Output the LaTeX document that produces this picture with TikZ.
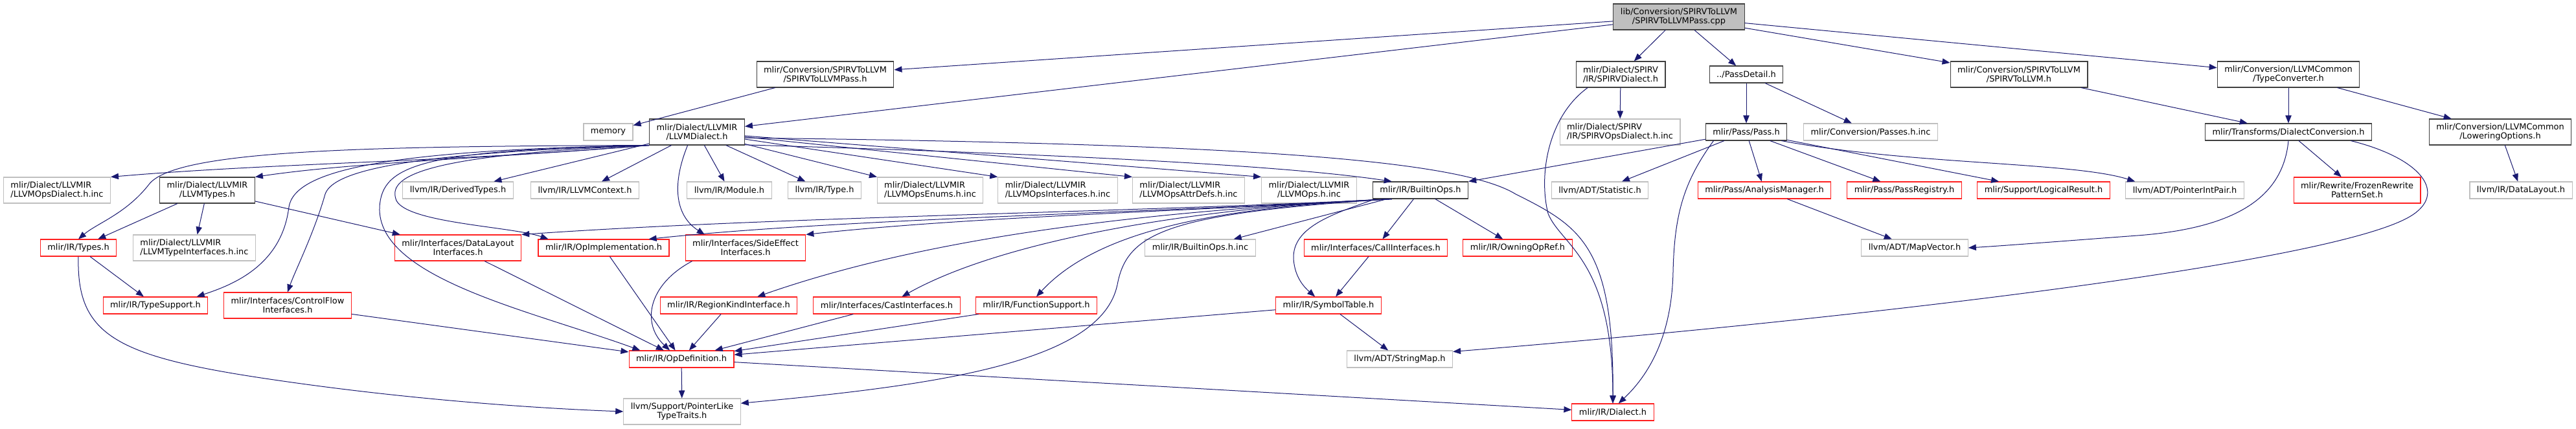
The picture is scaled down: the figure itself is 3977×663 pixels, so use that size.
\documentclass[tikz,border=0pt]{standalone}
\usepackage{fontspec}
\setmainfont{DejaVu Sans}
\usepackage{tikz}
\usetikzlibrary{arrows.meta}
\usepackage{xcolor}
\definecolor{known}{HTML}{404040}
\definecolor{ext}{HTML}{BFBFBF}
\definecolor{trunc}{HTML}{FF2020}
\definecolor{edgeblue}{HTML}{191970}
\newcommand{\graphfont}{\fontsize{9.7pt}{10.5pt}\selectfont}

\begin{document}
\begin{tikzpicture}[
  x=0.75pt, y=-0.75pt,
  hdr/.style={draw=#1, line width=0.8pt, font=\graphfont, inner xsep=8.25pt, inner ysep=0pt, minimum height=19.5pt, align=center},
  hdr/.default=known,
  hdr2/.style={hdr=#1, minimum height=30pt},
  hdr2/.default=known,
  dep/.style={-{Triangle[length=9pt, width=7pt]}, line width=0.75pt, edgeblue}
]
  \useasboundingbox (0,0) rectangle (3977,663);

  % source file
  \node[hdr2, fill=ext] (root) at (2592,26) {lib/Conversion/SPIRVToLLVM\\/SPIRVToLLVMPass.cpp};

  % first level
  \node[hdr2] (s2lpass) at (1274,115) {mlir/Conversion/SPIRVToLLVM\\/SPIRVToLLVMPass.h};
  \node[hdr2, align=left] (spirvdialect) at (2502,115) {mlir/Dialect/SPIRV\\/IR/SPIRVDialect.h};
  \node[hdr] (passdetail) at (2696,115) {../PassDetail.h};
  \node[hdr2] (s2l) at (3117,115) {mlir/Conversion/SPIRVToLLVM\\/SPIRVToLLVM.h};
  \node[hdr2] (typeconv) at (3533,115) {mlir/Conversion/LLVMCommon\\/TypeConverter.h};

  % second level
  \node[hdr=ext] (memory) at (939,204) {memory};
  \node[hdr2] (llvmdialect) at (1076,204) {mlir/Dialect/LLVMIR\\/LLVMDialect.h};
  \node[hdr2=ext, align=left] (spirvopsdialect) at (2501,204) {mlir/Dialect/SPIRV\\/IR/SPIRVOpsDialect.h.inc};
  \node[hdr] (pass) at (2696,204) {mlir/Pass/Pass.h};
  \node[hdr=ext] (passesinc) at (2888,204) {mlir/Conversion/Passes.h.inc};
  \node[hdr] (dialectconv) at (3533,204) {mlir/Transforms/DialectConversion.h};
  \node[hdr2] (loweringopts) at (3860,204) {mlir/Conversion/LLVMCommon\\/LoweringOptions.h};

  % third level
  \node[hdr2=ext, align=left] (opsdialect) at (88,294) {mlir/Dialect/LLVMIR\\/LLVMOpsDialect.h.inc};
  \node[hdr2] (llvmtypes) at (320,294) {mlir/Dialect/LLVMIR\\/LLVMTypes.h};
  \node[hdr=ext] (derivedtypes) at (707,294) {llvm/IR/DerivedTypes.h};
  \node[hdr=ext] (llvmcontext) at (903,294) {llvm/IR/LLVMContext.h};
  \node[hdr=ext] (module) at (1126,294) {llvm/IR/Module.h};
  \node[hdr=ext] (type) at (1273,294) {llvm/IR/Type.h};
  \node[hdr2=ext, align=left] (opsenums) at (1436,294) {mlir/Dialect/LLVMIR\\/LLVMOpsEnums.h.inc};
  \node[hdr2=ext, align=left] (opsinterfaces) at (1633,294) {mlir/Dialect/LLVMIR\\/LLVMOpsInterfaces.h.inc};
  \node[hdr2=ext, align=left] (opsattrdefs) at (1835,294) {mlir/Dialect/LLVMIR\\/LLVMOpsAttrDefs.h.inc};
  \node[hdr2=ext] (opsinc) at (2021,294) {mlir/Dialect/LLVMIR\\/LLVMOps.h.inc};
  \node[hdr] (builtinops) at (2193,294) {mlir/IR/BuiltinOps.h};
  \node[hdr=ext] (statistic) at (2470,294) {llvm/ADT/Statistic.h};
  \node[hdr=trunc] (analysismgr) at (2724,294) {mlir/Pass/AnalysisManager.h};
  \node[hdr=trunc] (passregistry) at (2940,294) {mlir/Pass/PassRegistry.h};
  \node[hdr=trunc] (logicalresult) at (3155,294) {mlir/Support/LogicalResult.h};
  \node[hdr=ext] (pointerintpair) at (3373,294) {llvm/ADT/PointerIntPair.h};
  \node[hdr2=trunc] (frozenpatterns) at (3639,294) {mlir/Rewrite/FrozenRewrite\\PatternSet.h};
  \node[hdr=ext] (datalayout) at (3892,294) {llvm/IR/DataLayout.h};

  % fourth level
  \node[hdr=trunc] (types) at (121,383) {mlir/IR/Types.h};
  \node[hdr2=ext, align=left] (typeinterfaces) at (300,383) {mlir/Dialect/LLVMIR\\/LLVMTypeInterfaces.h.inc};
  \node[hdr2=trunc] (datalayoutif) at (707,383) {mlir/Interfaces/DataLayout\\Interfaces.h};
  \node[hdr=trunc] (opimpl) at (932,383) {mlir/IR/OpImplementation.h};
  \node[hdr2=trunc] (sideeffect) at (1151,383) {mlir/Interfaces/SideEffect\\Interfaces.h};
  \node[hdr=ext] (builtinopsinc) at (1853,383) {mlir/IR/BuiltinOps.h.inc};
  \node[hdr=trunc] (callif) at (2124,383) {mlir/Interfaces/CallInterfaces.h};
  \node[hdr=trunc] (owningopref) at (2343,383) {mlir/IR/OwningOpRef.h};
  \node[hdr=ext] (mapvector) at (2956,383) {llvm/ADT/MapVector.h};

  % fifth level
  \node[hdr=trunc] (typesupport) at (240,472) {mlir/IR/TypeSupport.h};
  \node[hdr2=trunc] (controlflow) at (444,472) {mlir/Interfaces/ControlFlow\\Interfaces.h};
  \node[hdr=trunc] (regionkind) at (1125,472) {mlir/IR/RegionKindInterface.h};
  \node[hdr=trunc] (castif) at (1369,472) {mlir/Interfaces/CastInterfaces.h};
  \node[hdr=trunc] (funcsupport) at (1600,472) {mlir/IR/FunctionSupport.h};
  \node[hdr=trunc] (symboltable) at (2051,472) {mlir/IR/SymbolTable.h};

  % bottom levels
  \node[hdr=trunc] (opdef) at (1052,555) {mlir/IR/OpDefinition.h};
  \node[hdr=ext] (stringmap) at (2161,555) {llvm/ADT/StringMap.h};
  \node[hdr2=ext] (pointerlike) at (1053,636) {llvm/Support/PointerLike\\TypeTraits.h};
  \node[hdr=trunc] (dialect) at (2490,637) {mlir/IR/Dialect.h};

  % from the source file
  \draw[dep] (root) -- (s2lpass);
  \draw[dep] (root) -- (llvmdialect);
  \draw[dep] (root) -- (spirvdialect);
  \draw[dep] (root) -- (passdetail);
  \draw[dep] (root) -- (s2l);
  \draw[dep] (root) -- (typeconv);
  \draw[dep] (s2lpass) -- (memory);

  % LLVMDialect.h
  \draw[dep] (llvmdialect.south west) .. controls (700,250) and (420,252) .. (opsdialect.north east);
  \draw[dep] (llvmdialect.south west) .. controls (700,248) and (540,252) .. (llvmtypes.north east);
  \draw[dep] (llvmdialect.south west) .. controls (560,226) and (270,232) .. (230,285) .. controls (195,330) and (150,345) .. (types.north);
  \draw[dep] (llvmdialect.south west) .. controls (600,232) and (455,262) .. (446,320) .. controls (435,410) and (360,440) .. (typesupport.12);
  \draw[dep] (llvmdialect.south west) .. controls (640,236) and (515,262) .. (502,300) .. controls (485,360) and (455,420) .. (controlflow.north);
  \draw[dep] (llvmdialect.south west) .. controls (650,232) and (590,255) .. (586,320) .. controls (582,430) and (820,480) .. (opdef.168);
  \draw[dep] (llvmdialect.south west) .. controls (640,240) and (598,275) .. (612,310) .. controls (630,345) and (790,350) .. (opimpl.171);
  \draw[dep] (llvmdialect) -- (derivedtypes);
  \draw[dep] (llvmdialect) -- (llvmcontext);
  \draw[dep] (llvmdialect) -- (module);
  \draw[dep] (llvmdialect) -- (type);
  \draw[dep] (llvmdialect) -- (opsenums);
  \draw[dep] (llvmdialect) -- (opsinterfaces.north west);
  \draw[dep] (llvmdialect) -- (opsattrdefs.north west);
  \draw[dep] (llvmdialect) -- (opsinc.north west);
  \draw[dep] (llvmdialect.-15) .. controls (1700,240) and (2000,258) .. (builtinops.163);
  \draw[dep] (llvmdialect.235) .. controls (1035,290) and (1045,335) .. (sideeffect.162);
  \draw[dep] (llvmdialect.-7) .. controls (1900,222) and (2250,245) .. (2340,300) .. controls (2440,350) and (2492,380) .. (dialect.north);

  % SPIRVDialect.h, PassDetail.h, Pass.h
  \draw[dep] (spirvdialect) -- (spirvopsdialect);
  \draw[dep] (spirvdialect.202) .. controls (2390,180) and (2375,270) .. (2390,330) .. controls (2410,380) and (2490,400) .. (dialect.north);
  \draw[dep] (passdetail) -- (pass);
  \draw[dep] (passdetail) -- (passesinc);
  \draw[dep] (pass) -- (builtinops.north east);
  \draw[dep] (pass) -- (statistic);
  \draw[dep] (pass) -- (analysismgr);
  \draw[dep] (pass) -- (passregistry);
  \draw[dep] (pass) -- (logicalresult);
  \draw[dep] (pass.-14) .. controls (2950,255) and (3200,250) .. (pointerintpair.170);
  \draw[dep] (pass.195) .. controls (2600,280) and (2585,330) .. (2583,420) .. controls (2581,520) and (2545,580) .. (dialect.57);
  \draw[dep] (analysismgr) -- (mapvector);

  % conversion headers
  \draw[dep] (s2l) -- (dialectconv);
  \draw[dep] (typeconv) -- (dialectconv);
  \draw[dep] (typeconv) -- (loweringopts);
  \draw[dep] (loweringopts) -- (datalayout);
  \draw[dep] (dialectconv) -- (frozenpatterns);
  \draw[dep] (dialectconv.south) .. controls (3525,300) and (3460,352) .. (3300,364) .. controls (3180,373) and (3090,380) .. (mapvector.east);
  \draw[dep] (dialectconv.-8.5) .. controls (3740,245) and (3780,300) .. (3720,335) .. controls (3600,405) and (2900,490) .. (stringmap.8);

  % BuiltinOps.h
  \draw[dep] (builtinops) -- (builtinopsinc);
  \draw[dep] (builtinops) -- (callif);
  \draw[dep] (builtinops) -- (owningopref);
  \draw[dep] (builtinops.197) .. controls (1900,320) and (1700,350) .. (funcsupport.north);
  \draw[dep] (builtinops.197) .. controls (1850,320) and (1550,370) .. (castif.30);
  \draw[dep] (builtinops.197) .. controls (1800,325) and (1450,360) .. (regionkind.17);
  \draw[dep] (builtinops.197) .. controls (1800,328) and (1500,335) .. (sideeffect.north east);
  \draw[dep] (builtinops.197) .. controls (1750,330) and (1300,338) .. (opimpl.11);
  \draw[dep] (builtinops.197) .. controls (1750,328) and (1200,335) .. (datalayoutif.north east);
  \draw[dep] (builtinops.197) .. controls (1800,330) and (1740,360) .. (1725,440) .. controls (1700,560) and (1450,595) .. (pointerlike.8);
  \draw[dep] (builtinops.191) .. controls (2060,330) and (1995,350) .. (1997,400) .. controls (1999,430) and (2015,445) .. (symboltable.147);

  % LLVMTypes.h and the interface headers
  \draw[dep] (llvmtypes) -- (types);
  \draw[dep] (llvmtypes) -- (typeinterfaces);
  \draw[dep] (llvmtypes) -- (datalayoutif);
  \draw[dep] (types) -- (typesupport);
  \draw[dep] (types.south) .. controls (118,520) and (180,552) .. (430,588) .. controls (650,620) and (850,632) .. (pointerlike.west);
  \draw[dep] (controlflow) -- (opdef);
  \draw[dep] (datalayoutif) -- (opdef);
  \draw[dep] (opimpl) -- (opdef);
  \draw[dep] (sideeffect.194) .. controls (1000,440) and (990,500) .. (opdef.143);
  \draw[dep] (regionkind) -- (opdef);
  \draw[dep] (castif) -- (opdef);
  \draw[dep] (funcsupport) -- (opdef);
  \draw[dep] (symboltable) -- (opdef);
  \draw[dep] (callif) -- (symboltable);
  \draw[dep] (symboltable) -- (stringmap);
  \draw[dep] (opdef) -- (pointerlike);
  \draw[dep] (opdef) -- (dialect);
\end{tikzpicture}
\end{document}
